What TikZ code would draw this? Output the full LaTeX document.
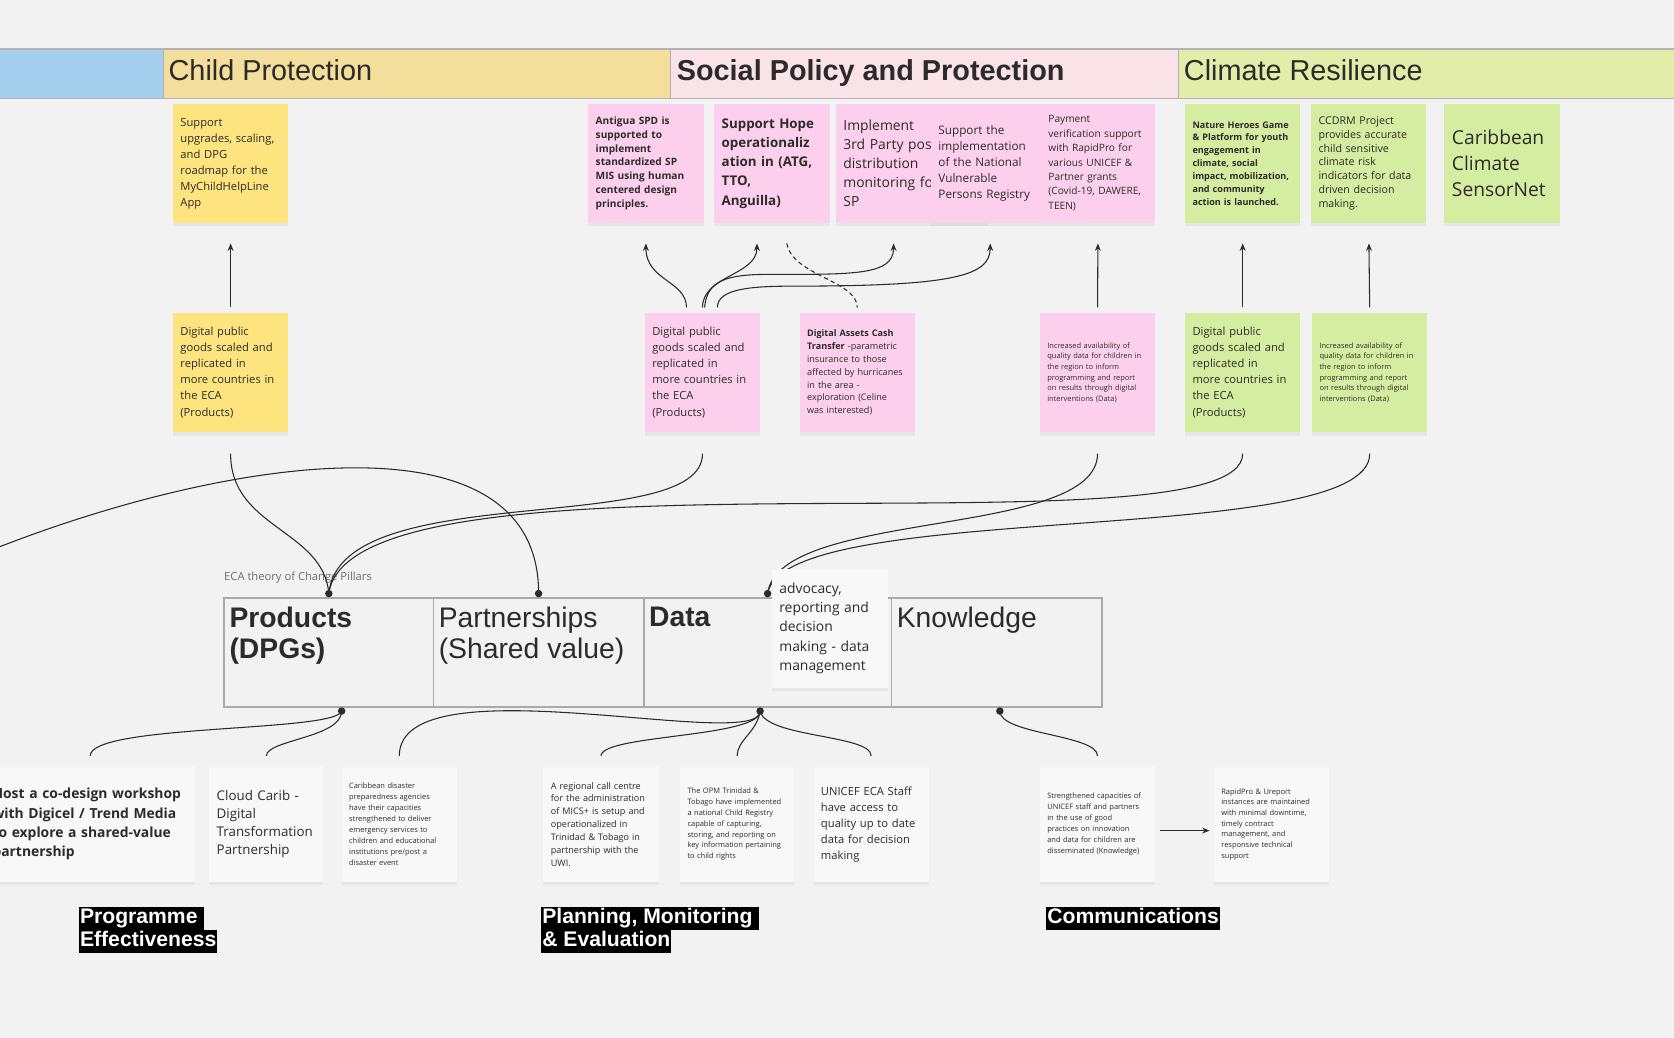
\documentclass[tikz,border=0pt]{standalone}
\usepackage{fontspec}
\setmainfont{Open Sans}
\newfontfamily\arialfont{Liberation Sans}
\usepackage{tikz}
\usetikzlibrary{positioning}
\usetikzlibrary{shadows}
\usetikzlibrary{arrows.meta}
\usetikzlibrary{calc}

\definecolor{bgGrey}{HTML}{F2F2F2}
\definecolor{hdrBlue}{HTML}{A5CFEF}
\definecolor{hdrYellow}{HTML}{F4DE9B}
\definecolor{hdrPink}{HTML}{F9E3E9}
\definecolor{hdrGreen}{HTML}{E3EDAA}
\definecolor{hdrLine}{HTML}{B3B3B3}
\definecolor{pillarLine}{HTML}{AAAAAA}
\definecolor{noteYellow}{HTML}{FDE47E}
\definecolor{notePink}{HTML}{FCD0EC}
\definecolor{noteGreen}{HTML}{D5EDA1}
\definecolor{noteWhite}{HTML}{F8F8F8}
\definecolor{inkDark}{HTML}{2B2B2B}
\definecolor{lblGrey}{HTML}{6E6E6E}

\hyphenpenalty=10000
\exhyphenpenalty=10000
\newcommand{\blackbar}[1]{{\setlength{\fboxsep}{0pt}\colorbox{black}{\strut\hspace{1pt}#1\hspace{1pt}}}}
\newcommand{\fsz}[2]{\fontsize{#1}{#2}\selectfont}

\begin{document}
\begin{tikzpicture}[
  x=1pt, y=-1pt,
  every node/.style={inner sep=0pt, outer sep=0pt},
  note/.style={anchor=north west, text width=94pt, inner xsep=7pt,
    minimum height=112pt, align=left, text=inkDark,
    drop shadow={shadow xshift=0pt, shadow yshift=-3pt, opacity=0.10}},
  yellownote/.style={note, fill=noteYellow},
  pinknote/.style={note, fill=notePink},
  greennote/.style={note, fill=noteGreen},
  whitenote/.style={note, fill=noteWhite, minimum height=108pt},
  hdrcell/.style={anchor=north west, draw=hdrLine, line width=1.2pt,
    minimum height=46pt},
  hdrlabel/.style={anchor=base west, font=\arialfont\fsz{27}{30}, text=inkDark},
  pillar/.style={anchor=north west, draw=pillarLine, line width=1.5pt,
    minimum height=102pt},
  pillarlabel/.style={anchor=north west, align=left,
    font=\arialfont\fsz{26.5}{29}, text=inkDark},
  dot/.style={circle, fill=inkDark, minimum size=7pt},
  conn/.style={draw=inkDark, line width=1pt},
  arrow/.style={conn, -{Stealth[length=7pt, width=5.5pt]}},
  hilite/.style={anchor=north west, align=left,
    font=\arialfont\bfseries\fsz{19.8}{21.5}, text=white}
]
\useasboundingbox (0,0) rectangle (1568,972);
\clip (0,0) rectangle (1568,972);
\fill[bgGrey] (0,0) rectangle (1568,972);

% Header bar
\node[hdrcell, fill=hdrBlue, minimum width=158pt] (hdrBlue) at (-5,46) {};
\node[hdrcell, fill=hdrYellow, minimum width=475pt] (hdrCP) at (153,46) {};
\node[hdrcell, fill=hdrPink, minimum width=476pt] (hdrSP) at (628,46) {};
\node[hdrcell, fill=hdrGreen, minimum width=476pt] (hdrCR) at (1104,46) {};
\node[hdrlabel] (cpLbl) at (158,75) {Child Protection};
\node[hdrlabel, font=\arialfont\bfseries\fsz{27}{30}] (spLbl) at (634,75) {Social Policy and Protection};
\node[hdrlabel] (crLbl) at (1109,75) {Climate Resilience};

% Pillars
\node[anchor=base west, font=\fsz{10.5}{12}, text=lblGrey] (pillarsLbl) at (210,544) {ECA theory of Change Pillars};
\node[pillar, minimum width=196pt] (prod) at (210,560) {};
\node[pillar, minimum width=197pt] (part) at (406,560) {};
\node[pillar, minimum width=232pt] (data) at (603,560) {};
\node[pillar, minimum width=197pt] (know) at (835,560) {};
\node[pillarlabel, font=\arialfont\bfseries\fsz{26.5}{29}] (prodLbl) at ([xshift=5pt,yshift=-9pt]prod.north west) {Products\\(DPGs)};
\node[pillarlabel] (partLbl) at ([xshift=5pt,yshift=-9pt]part.north west) {Partnerships\\(Shared value)};
\node[pillarlabel, font=\arialfont\bfseries\fsz{26.5}{29}] (dataLbl) at ([xshift=5pt,yshift=-9pt]data.north west) {Data};
\node[pillarlabel] (knowLbl) at ([xshift=5pt,yshift=-9pt]know.north west) {Knowledge};

\node[dot] (prodTopDot) at ([yshift=4pt]prod.north) {};
\node[dot] (partTopDot) at ([yshift=4pt]part.north) {};
\node[dot] (dataTopDot) at ([yshift=4pt]data.north) {};
\node[dot] (prodBotDot) at ([xshift=12pt,yshift=-4pt]prod.south) {};
\node[dot] (dataBotDot) at ([xshift=-7pt,yshift=-4pt]data.south) {};
\node[dot] (knowBotDot) at ([xshift=3pt,yshift=-4pt]know.south) {};

% Outcome notes
\node[yellownote, font=\fsz{10.5}{15}] (cpTop) at (162,97) {Support\\upgrades, scaling,\\and DPG\\roadmap for the\\MyChildHelpLine\\App};
\node[pinknote, font=\bfseries\fsz{9.5}{13}] (spAntigua) at (551,97) {Antigua SPD is\\supported to\\implement\\standardized SP\\MIS using human\\centered design\\principles.};
\node[pinknote, font=\bfseries\fsz{12.5}{18}] (spHope) at (669,97) {Support Hope\\operationaliz\\ation in (ATG,\\TTO,\\Anguilla)};
\node[pinknote, text width=128pt, font=\fsz{13}{18}] (spMonitor) at (783,97) {Implement\\3rd Party post\\distribution\\monitoring for\\SP};
\node[pinknote, text width=89pt, font=\fsz{11}{15}] (spRegistry) at (872,97) {Support the\\implementation\\of the National\\Vulnerable\\Persons Registry};
\node[pinknote, text width=93pt, font=\fsz{9.5}{13.5}] (spPay) at (975,97) {Payment\\verification support\\with RapidPro for\\various UNICEF \&\\Partner grants\\(Covid-19, DAWERE,\\TEEN)};
\node[greennote, font=\bfseries\fsz{8.5}{12}] (crHeroes) at (1110,97) {Nature Heroes Game\\\& Platform for youth\\engagement in\\climate, social\\impact, mobilization,\\and community\\action is launched.};
\node[greennote, font=\fsz{10}{13}] (crCcdrm) at (1228,97) {CCDRM Project\\provides accurate\\child sensitive\\climate risk\\indicators for data\\driven decision\\making.};
\node[greennote, font=\fsz{18}{24.5}] (crSensor) at (1353,97) {Caribbean\\Climate\\SensorNet};

% Output notes
\node[yellownote, font=\fsz{10.5}{15}] (cpMid) at (162,293) {Digital public\\goods scaled and\\replicated in\\more countries in\\the ECA\\(Products)};
\node[pinknote, font=\fsz{10.5}{15}] (spMid) at (604,293) {Digital public\\goods scaled and\\replicated in\\more countries in\\the ECA\\(Products)};
\node[pinknote, font=\fsz{8.5}{12}] (spCash) at (749,293) {\textbf{Digital Assets Cash}\\\textbf{Transfer} -parametric\\insurance to those\\affected by hurricanes\\in the area -\\exploration (Celine\\was interested)};
\node[pinknote, font=\fsz{7}{10}] (spData) at (974,293) {Increased availability of\\quality data for children in\\the region to inform\\programming and report\\on results through digital\\interventions (Data)};
\node[greennote, font=\fsz{10.5}{15}] (crMid) at (1110,293) {Digital public\\goods scaled and\\replicated in\\more countries in\\the ECA\\(Products)};
\node[greennote, font=\fsz{7}{10}] (crData) at (1229,293) {Increased availability of\\quality data for children in\\the region to inform\\programming and report\\on results through digital\\interventions (Data)};

% Arrows up
\draw[arrow, shorten <=5pt, shorten >=19pt] (cpMid.north) -- (cpTop.south);
\draw[arrow, shorten <=5pt, shorten >=19pt] (spData.north) -- (spPay.south);
\draw[arrow, shorten <=5pt, shorten >=19pt] (crMid.north) -- (crHeroes.south);
\draw[arrow, shorten <=5pt, shorten >=19pt] (crData.north) -- (crCcdrm.south);

\coordinate (bendC) at (720,257);
\coordinate (bendD) at (745,268);
\draw[arrow] ([xshift=-15pt,yshift=5pt]spMid.north) .. controls +(0,-25) and +(0,35) .. ([yshift=-19pt]spAntigua.south);
\draw[arrow] ([yshift=5pt]spMid.north) .. controls +(0,-30) and +(0,30) .. ([xshift=-14pt,yshift=-19pt]spHope.south);
\draw[arrow] ([xshift=2pt,yshift=5pt]spMid.north) .. controls +(2,-25) and +(-40,0) .. (bendC) .. controls +(80,0) and +(0,30) .. ([xshift=54pt,yshift=-19pt]spMonitor.south west);
\draw[arrow] ([xshift=14pt,yshift=5pt]spMid.north) .. controls +(0,-18) and +(-40,0) .. (bendD) .. controls +(150,0) and +(0,30) .. ([xshift=4pt,yshift=-19pt]spRegistry.south);
\draw[conn, dash pattern=on 4pt off 3pt] ([xshift=14pt,yshift=-19pt]spHope.south) .. controls +(5,30) and +(0,-25) .. ([yshift=5pt]spCash.north);

% Connectors to the pillars
\coordinate (offLeft) at (-20,520);
\draw[conn] ([yshift=-20pt]cpMid.south) .. controls +(0,70) and +(-5,-60) .. (prodTopDot.center);
\draw[conn] ([yshift=-20pt]spMid.south) .. controls +(0,80) and +(10,-110) .. (prodTopDot.center);
\draw[conn] (offLeft) .. controls (200,430) and (505,380) .. (partTopDot.center);
\draw[conn] ([yshift=-20pt]spData.south) .. controls +(0,80) and +(10,-80) .. (dataTopDot.center);
\draw[conn] ([yshift=-20pt]crMid.south) .. controls +(0,100) and +(20,-150) .. (prodTopDot.center);
\draw[conn] ([yshift=-20pt]crData.south) .. controls +(0,90) and +(15,-90) .. (dataTopDot.center);

\node[note, fill=noteWhite, text width=95pt, minimum height=111pt, font=\fsz{13}{18}] (dataNote) at (723,533) {advocacy,\\reporting and\\decision\\making - data\\management};

% Activity notes
\node[whitenote, text width=183pt, font=\bfseries\fsz{13}{18}] (peWork) at (-14,718) {Host a co-design workshop\\with Digicel / Trend Media\\to explore a shared-value\\partnership};
\node[whitenote, text width=93pt, font=\fsz{12.5}{17}] (peCloud) at (196,718) {Cloud Carib -\\Digital\\Transformation\\Partnership};
\node[whitenote, font=\fsz{7}{10.3}] (peDisaster) at (320,718) {Caribbean disaster\\preparedness agencies\\have their capacities\\strengthened to deliver\\emergency services to\\children and educational\\institutions pre/post a\\disaster event};
\node[whitenote, font=\fsz{8.5}{12}] (pmCall) at (509,718) {A regional call centre\\for the administration\\of MICS+ is setup and\\operationalized in\\Trinidad \& Tobago in\\partnership with the\\UWI.};
\node[whitenote, text width=93pt, font=\fsz{7}{10.2}] (pmOpm) at (637,718) {The OPM Trinidad \&\\Tobago have implemented\\a national Child Registry\\capable of capturing,\\storing, and reporting on\\key information pertaining\\to child rights};
\node[whitenote, font=\fsz{10.5}{15}] (pmStaff) at (762,718) {UNICEF ECA Staff\\have access to\\quality up to date\\data for decision\\making};
\node[whitenote, font=\fsz{7}{10.2}] (cmSkills) at (974,718) {Strengthened capacities of\\UNICEF staff and partners\\in the use of good\\practices on innovation\\and data for children are\\disseminated (Knowledge)};
\node[whitenote, font=\fsz{7}{10}] (cmRapid) at (1137,718) {RapidPro \& Ureport\\instances are maintained\\with minimal downtime,\\timely contract\\management, and\\responsive technical\\support};

% Connectors from the pillars
\draw[conn] (prodBotDot.center) .. controls +(-5,20) and +(0,-30) .. ([yshift=10pt]peWork.north);
\draw[conn] (prodBotDot.center) .. controls +(0,25) and +(0,-15) .. ([yshift=10pt]peCloud.north);
\draw[conn] (dataBotDot.center) .. controls +(0,40) and +(0,-90) .. ([yshift=10pt]peDisaster.north);
\draw[conn] (dataBotDot.center) .. controls +(0,25) and +(0,-20) .. ([yshift=10pt]pmCall.north);
\draw[conn] (dataBotDot.center) .. controls +(-3,20) and +(0,-15) .. ([yshift=10pt]pmOpm.north);
\draw[conn] (dataBotDot.center) .. controls +(5,25) and +(0,-20) .. ([yshift=10pt]pmStaff.north);
\draw[conn] (knowBotDot.center) .. controls +(0,22) and +(0,-20) .. ([yshift=10pt]cmSkills.north);
\draw[arrow] ([xshift=5pt,yshift=-6pt]cmSkills.east) -- ([xshift=-4pt,yshift=-6pt]cmRapid.west);

% Workstream labels
\node[hilite] (peLbl) at (74,850) {\blackbar{Programme\ }\\\blackbar{Effectiveness}};
\node[hilite] (pmLbl) at (507,850) {\blackbar{Planning, Monitoring\ }\\\blackbar{\& Evaluation}};
\node[hilite] (cmLbl) at (980,850) {\blackbar{Communications}};
\end{tikzpicture}
\end{document}
